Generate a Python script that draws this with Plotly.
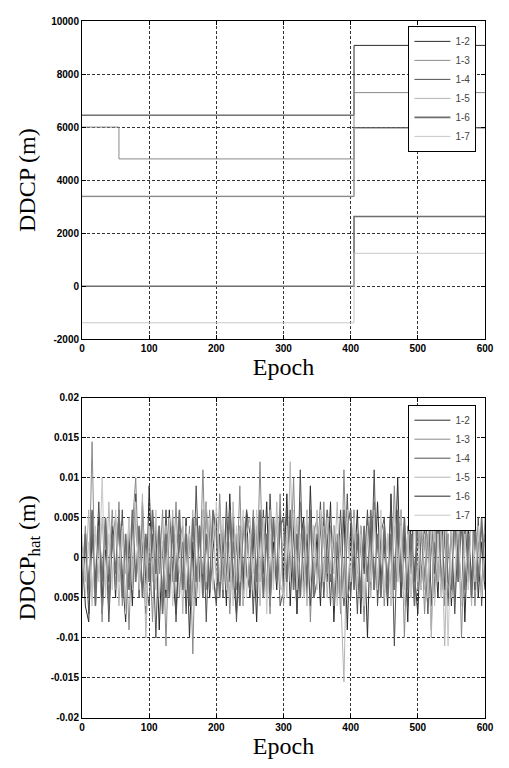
import plotly.graph_objects as go

# ---------------- data ----------------
series_names = ["1-2", "1-3", "1-4", "1-5", "1-6", "1-7"]
series_colors = ["#2b2b2b", "#8a8a8a", "#505050", "#b4b4b4", "#6e6e6e", "#c8c8c8"]
series_widths = [1.0, 1.0, 1.0, 1.0, 1.6, 1.0]

# Top panel: DDCP step levels (m) at change epochs
step_epochs = [0, 55, 405, 600]
ddcp_12 = [6450, 6450, 9080, 9080]
ddcp_13 = [6000, 4800, 7300, 7300]
ddcp_14 = [3380, 3380, 5980, 5980]
ddcp_15 = [3400, 3400, 5950, 5950]
ddcp_16 = [0, 0, 2630, 2630]
ddcp_17 = [-1380, -1380, 1240, 1240]

# Bottom panel: DDCP_hat residuals (mm) sampled every 5 epochs
hat_epochs = list(range(0, 601, 5))
hat_12_mm = [2, -6, -8, 3, -4, 5, -7, 1, -3, 4,
             -5, 6, -2, -8, 3, -6, 7, -4, 2, -7,
             9, -3, 4, -9, 2, -5, 6, -2, -7, 3,
             -4, 5, -10, 2, -6, 4, -3, 7, -5, 1,
             5, -4, 3, -6, 8, -2, -7, 4, -3, 6,
             -5, 3, -8, 5, -2, 7, -6, 2, -4, 6,
             -3, 8, -6, 4, -7, 2, 5, -5, 9, -4,
             3, -6, 5, -3, 7, -8, 2, -5, 6, -9,
             4, -2, 6, -7, 3, -10, 5, -4, 7, -3,
             2, -6, 8, -4, 10, -5, 3, -8, 6, -2,
             -7, 4, -3, 8, -6, 2, -5, 7, -4, 3,
             -6, 5, -2, 7, -8, 4, -3, 6, -5, 2,
             -4]
hat_13_mm = [-3, 4, -5, 14.5, -6, 3, -8, 5, -2, 6,
             -4, 7, -6, 2, -9, 4, 10, -3, 5, -6,
             3, -8, 5, -2, 6, -11, 4, -3, 7, -5,
             2, -6, 4, -12, 5, -3, 11, -4, 6, -2,
             -5, 8, -3, 5, -7, 2, -4, 9, -6, 3,
             -2, 6, -5, 12, -4, 3, -7, 5, -3, 8,
             -6, 4, -2, 10, -5, 7, -3, 6, -8, 3,
             5, -4, 7, -2, 4, -6, 3, -7, 11, -5,
             -3, 6, -4, 2, -8, 5, -2, 7, -5, 4,
             -6, 3, -4, 9, -3, 6, -10, 4, -2, 8,
             -4, 5, -7, 3, -9, 6, -3, 4, -6, 8,
             3, -5, 6, -10, 4, -3, 7, -6, 2, -4,
             5]
hat_14_mm = [-4, 2, -7, 5, -3, 7, -5, 3, -8, 2,
             5, -3, 6, -7, 4, -2, 8, -5, 7, -3,
             -6, 3, -10, 4, -5, 6, -3, 5, -8, 2,
             4, -7, 3, -5, 9, -3, 6, -8, 4, -2,
             -6, 3, -5, 7, -3, 5, -8, 2, -4, 6,
             3, -7, 4, -3, 6, -5, 8, -2, 5, -6,
             -4, 6, -3, 5, -7, 11, -5, 3, -6, 4,
             -2, 7, -5, 3, -6, 4, -3, 6, -4, 8,
             -5, 3, -7, 4, -2, 6, -4, 11, -6, 3,
             5, -3, 7, -11, 4, -5, 2, -6, 8, -3,
             6, -4, 3, -7, 5, -2, 8, -5, 3, -6,
             4, -7, 3, -5, 6, -3, 7, -4, 5, -6,
             3]
hat_15_mm = [1, -3, 6, -5, 3, -2, 5, -4, 7, -3,
             4, -6, 3, -2, 5, -4, 6, -3, 8, -10,
             2, 5, -4, 3, -6, 4, -2, 6, -3, 5,
             -7, 4, -3, 6, -5, 3, -2, 7, -4, 5,
             -3, 6, -4, 2, -5, 7, -3, 4, -6, 3,
             5, -2, 4, -6, 3, -5, 6, -3, 7, -4,
             3, -5, 12, -3, 5, -4, 2, -6, 4, -3,
             6, -3, 4, -5, 3, -2, 7, -4, -15.5, 5,
             -3, 5, -2, 4, -6, 3, -5, 6, -3, 4,
             -5, 3, -6, 4, -3, 6, -4, 3, -5, 7,
             -3, 5, -4, 6, -10, 4, -3, 5, -11, 3,
             -5, 4, -3, 6, -4, 2, -6, 5, -3, 4,
             -2]
hat_16_mm = [-5, 3, -4, 6, -6, 4, -3, 5, -6, 3,
             -2, 5, -5, 3, -4, 6, -3, 4, -5, 3,
             -3, 6, -2, 4, -7, 3, -5, 4, -3, 6,
             -4, 3, -6, 5, -3, 4, -5, 3, -4, 6,
             3, -5, 4, -3, 6, -4, 3, -6, 5, -2,
             -4, 5, -3, 6, -5, 3, -4, 5, -3, 4,
             5, -3, 6, -4, 3, -5, 4, -3, 6, -5,
             -3, 5, -4, 6, -3, 4, -5, 3, -6, 4,
             6, -4, 3, -5, 4, -3, 6, -4, 3, -5,
             4, -5, 3, -4, 6, -3, 5, -4, 3, -6,
             5, -3, 4, -6, 3, -5, 6, -4, 5, -3,
             -4, 6, -3, 5, -4, 3, -5, 4, -3, 5,
             -3]
hat_17_mm = [3, -5, 2, -6, 4, -3, 10, -5, 3, -4,
             6, -3, 4, -7, 5, -2, 7, -4, 3, -6,
             4, -3, 6, -5, 2, -4, 5, -6, 3, -2,
             5, -4, 3, -6, 4, -5, 6, -3, 5, -4,
             7, -3, 5, -4, 2, -6, 4, -3, 6, -5,
             3, -4, 6, -3, 5, -7, 3, -4, 5, -3,
             -5, 4, -3, 6, -4, 3, -5, 6, -3, 4,
             -4, 6, -3, 5, -2, 4, -6, 3, -5, 6,
             -3, 5, -4, 3, -6, 4, -3, 5, -4, 6,
             -4, 3, -5, 6, -3, 4, -6, 3, -5, 4,
             6, -4, 3, -5, 4, -6, 3, -5, 7, -11,
             4, -3, 5, -6, 3, -4, 6, -3, 4, -5,
             2]

x_ticks = [0, 100, 200, 300, 400, 500, 600]
top_y_ticks = [-2000, 0, 2000, 4000, 6000, 8000, 10000]
top_y_text = ["-2000", "0", "2000", "4000", "6000", "8000", "10000"]
bot_y_ticks = [-0.02, -0.015, -0.01, -0.005, 0, 0.005, 0.01, 0.015, 0.02]
bot_y_text = ["-0.02", "-0.015", "-0.01", "0.005", "0", "0.005", "0.01", "0.015", "0.02"]

top_series = [ddcp_12, ddcp_13, ddcp_14, ddcp_15, ddcp_16, ddcp_17]
bot_series_mm = [hat_12_mm, hat_13_mm, hat_14_mm, hat_15_mm, hat_16_mm, hat_17_mm]

# ---------------- figure ----------------
fig = go.Figure()

for name, col, w, ys in zip(series_names, series_colors, series_widths, top_series):
    fig.add_trace(go.Scatter(x=step_epochs, y=ys, mode="lines", name=name,
                             line=dict(color=col, width=w, shape="hv"),
                             xaxis="x", yaxis="y", legend="legend"))

for name, col, w, ys in zip(series_names, series_colors, series_widths, bot_series_mm):
    fig.add_trace(go.Scatter(x=hat_epochs, y=[v / 1000.0 for v in ys], mode="lines", name=name,
                             line=dict(color=col, width=w),
                             xaxis="x2", yaxis="y2", legend="legend2"))

tick_font = dict(family="Liberation Sans, Arial", size=10, color="black", weight="bold")
title_font = dict(family="Liberation Serif, Times New Roman", size=24, color="black")

axis_common = dict(showline=True, linecolor="black", linewidth=1, mirror="ticks",
                   ticks="inside", ticklen=4, tickcolor="black",
                   showgrid=True, gridcolor="#333333", gridwidth=1, griddash="3px,2px",
                   zeroline=False, tickfont=tick_font)

top_dom = [0.5434, 1.0]
bot_dom = [0.0, 0.4595]

leg_font = dict(family="Liberation Sans, Arial", size=10, color="#444")
leg_common = dict(xanchor="left", yanchor="top", bgcolor="white", bordercolor="black",
                  borderwidth=1, font=leg_font, tracegroupgap=0, itemwidth=36)

fig.update_layout(
    width=493, height=752,
    margin=dict(l=74, r=9, t=7, b=42),
    paper_bgcolor="white", plot_bgcolor="white",
    xaxis=dict(domain=[0, 1], range=[0, 600], tickvals=x_ticks, anchor="y",
               title=dict(text="Epoch", font=title_font, standoff=2), **axis_common),
    yaxis=dict(domain=top_dom, range=[-2000, 10000], tickvals=top_y_ticks, ticktext=top_y_text,
               anchor="x", title=dict(text="DDCP (m)", font=title_font, standoff=8), **axis_common),
    xaxis2=dict(domain=[0, 1], range=[0, 600], tickvals=x_ticks, anchor="y2",
                title=dict(text="Epoch", font=title_font, standoff=2), **axis_common),
    yaxis2=dict(domain=bot_dom, range=[-0.02, 0.02], tickvals=bot_y_ticks, ticktext=bot_y_text,
                anchor="x2", title=dict(text="DDCP<sub>hat</sub> (m)", font=title_font, standoff=8),
                **axis_common),
    legend=dict(x=0.81, y=0.993, **leg_common),
    legend2=dict(x=0.81, y=0.4495, **leg_common),
    showlegend=True,
)

fig.write_html("out.html")
